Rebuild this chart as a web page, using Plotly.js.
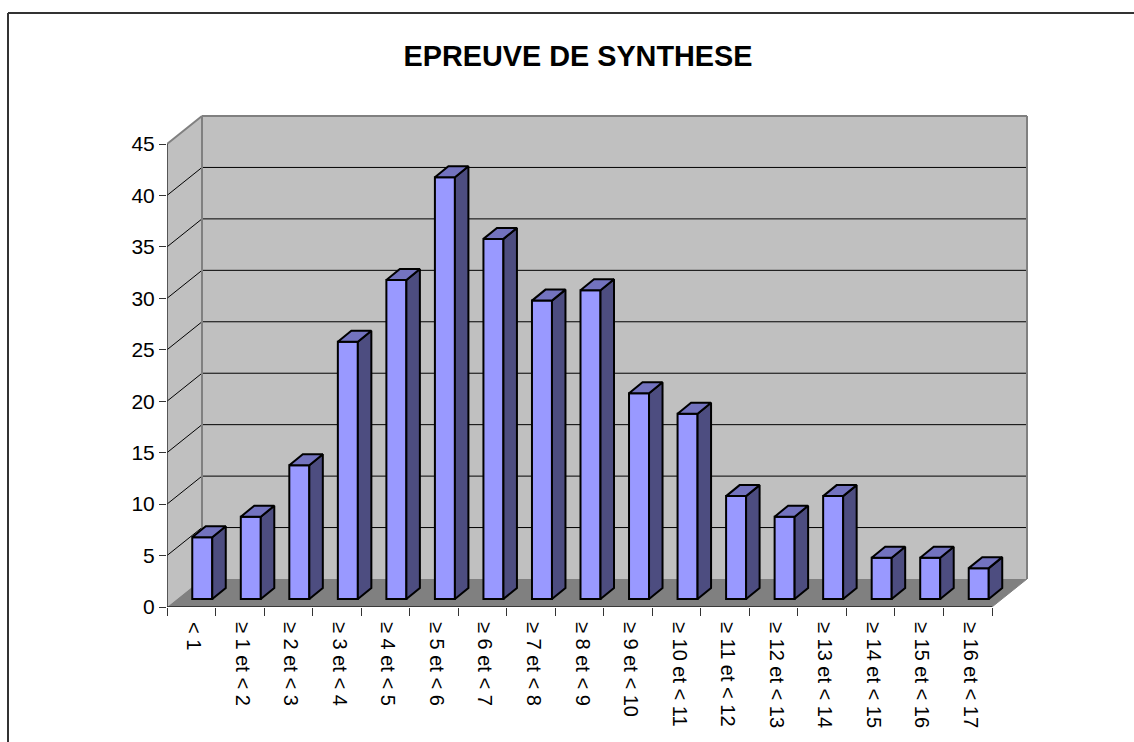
<!DOCTYPE html>
<html><head><meta charset="utf-8">
<script src="https://cdn.plot.ly/plotly-3.0.1.min.js"></script>
<style>html,body{margin:0;padding:0;background:#fff}#c{width:1134px;height:742px}</style>
</head><body><div id="c"></div>
<script>
const chartTitle = "EPREUVE DE SYNTHESE";
const categories = ["< 1","≥ 1 et < 2","≥ 2 et < 3","≥ 3 et < 4","≥ 4 et < 5","≥ 5 et < 6","≥ 6 et < 7","≥ 7 et < 8","≥ 8 et < 9","≥ 9 et < 10","≥ 10 et < 11","≥ 11 et < 12","≥ 12 et < 13","≥ 13 et < 14","≥ 14 et < 15","≥ 15 et < 16","≥ 16 et < 17"];
const values = [6,8,13,25,31,41,35,29,30,20,18,10,8,10,4,4,3];
const yTicks = [0,5,10,15,20,25,30,35,40,45];

// pixel geometry of the plot box -> scale factors
const L=167,R=1030,T=113,B=607, pxX=825/17, pxY=463/45;
const depthX=35/pxX, depthY=28/pxY;          // wall depth in data units
const n=categories.length, yMax=45;
const barW=20/pxX, barOffX=11/pxX, barOffY=8/pxY, barDX=13.5/pxX, barDY=11/pxY;
const labelShift=2.5/pxX;

const rect=(x0,y0,x1,y1,fill)=>({type:'rect',xref:'x',yref:'y',x0,y0,x1,y1,layer:'below',fillcolor:fill,line:{width:0}});
const ln=(x0,y0,x1,y1,c,w)=>({type:'line',xref:'x',yref:'y',x0,y0,x1,y1,layer:'below',line:{color:c,width:w}});
const poly=(pts,fill)=>({type:'path',xref:'x',yref:'y',layer:'below',fillcolor:fill,line:{width:0},path:'M'+pts.map(p=>p.join(',')).join('L')+'Z'});

const shapes=[];
shapes.push(rect(depthX,depthY,n+depthX,yMax+depthY,'#C0C0C0'));
shapes.push(poly([[0,0],[depthX,depthY],[depthX,yMax+depthY],[0,yMax]],'#C0C0C0'));
shapes.push(poly([[0,0],[n,0],[n+depthX,depthY],[depthX,depthY]],'#808080'));
yTicks.slice(1,-1).forEach(v=>{
  shapes.push(ln(0,v,depthX,v+depthY,'#000',1));
  shapes.push(ln(depthX,v+depthY,n+depthX,v+depthY,'#000',1));
});
const edge='#808080';
shapes.push(ln(depthX,depthY,depthX,yMax+depthY,edge,2));
shapes.push(ln(0,yMax,depthX,yMax+depthY,edge,2));
shapes.push(ln(depthX,yMax+depthY,n+depthX,yMax+depthY,edge,2));
shapes.push(ln(n+depthX,depthY,n+depthX,yMax+depthY,edge,2));
shapes.push(ln(n,0,n+depthX,depthY,edge,1));
shapes.push(ln(0,0,0,yMax,'#333333',1.5));
shapes.push(ln(0,0,n,0,'#222222',1.5));
// chart frame (left and top)
const fx=px=>(px-L)/(R-L), fy=py=>(B-py)/(B-T);
shapes.push({type:'line',xref:'paper',yref:'paper',x0:fx(8),y0:fy(742),x1:fx(8),y1:fy(13),line:{color:'#333',width:2}});
shapes.push({type:'line',xref:'paper',yref:'paper',x0:fx(8),y0:fy(13),x1:fx(1134),y1:fy(13),line:{color:'#333',width:2}});

const centers=values.map((v,i)=>i+0.5+barOffX);
const sideX=[],sideY=[],topX=[],topY=[];
values.forEach((v,i)=>{
  const r=centers[i]+barW/2, l=centers[i]-barW/2, t=v+barOffY;
  sideX.push(r,r+barDX,r+barDX,r,r,null);
  sideY.push(barOffY,barOffY+barDY,t+barDY,t,barOffY,null);
  topX.push(l,r,r+barDX,l+barDX,l,null);
  topY.push(t,t,t+barDY,t+barDY,t,null);
});
const face=(x,y,c)=>({type:'scatter',mode:'lines',x,y,fill:'toself',fillcolor:c,line:{color:'#000',width:2},hoverinfo:'skip',connectgaps:false});
const data=[
 {type:'bar',x:centers,y:values,base:barOffY,width:barW,marker:{color:'#9999FF',line:{color:'#000',width:2}},text:categories,hoverinfo:'text+y',textposition:'none'},
 face(sideX,sideY,'#4D4D80'),
 face(topX,topY,'#7373BF')
];
const font='"Liberation Sans",Arial,sans-serif';
const layout={
 width:1134,height:742,autosize:false,showlegend:false,
 paper_bgcolor:'#fff',plot_bgcolor:'rgba(0,0,0,0)',
 margin:{l:L,r:1134-R,t:T,b:742-B,pad:0},
 title:{text:chartTitle,font:{family:font,size:28.8,weight:700,color:'#000'},x:578/1134,xanchor:'center',xref:'container',y:1-56/742,yanchor:'middle',yref:'container'},
 xaxis:{range:[0,(R-L)/pxX],tickmode:'array',tickvals:categories.map((c,i)=>i+0.5+labelShift),ticktext:categories,tickangle:90,
   ticks:'outside',ticklen:10,tickcolor:'rgba(0,0,0,0)',tickfont:{family:font,size:20,color:'#000'},showgrid:false,zeroline:false,showline:false,
   minor:{tickmode:'array',tickvals:categories.map((c,i)=>i).concat([n]),ticks:'outside',ticklen:8,tickcolor:'#333',tickwidth:1,showgrid:false}},
 yaxis:{range:[0,(B-T)/pxY],tickmode:'array',tickvals:yTicks,ticktext:yTicks.map(String),ticks:'outside',ticklen:7,tickcolor:'#333',tickwidth:1,
   tickfont:{family:font,size:21,color:'#000'},showgrid:false,zeroline:false,showline:false},
 shapes
};
Plotly.newPlot('c',data,layout,{displayModeBar:false});
</script></body></html>
